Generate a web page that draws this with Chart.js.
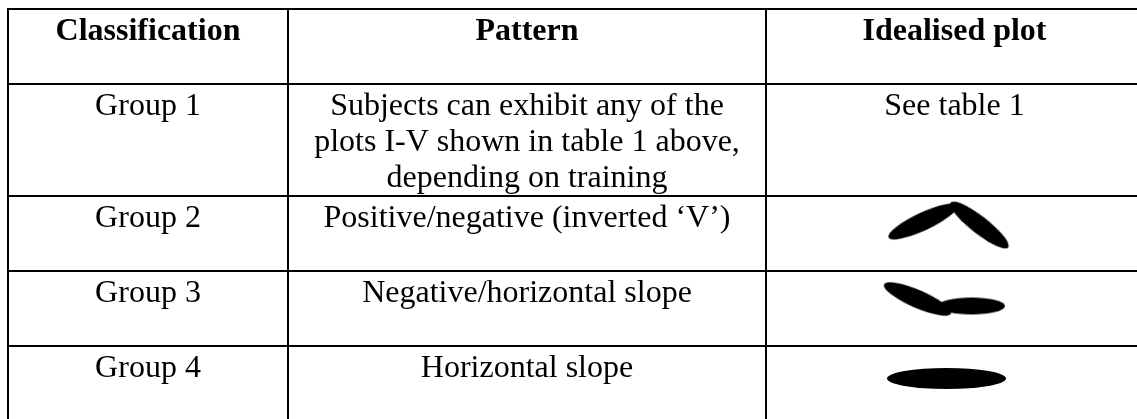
<!DOCTYPE html>
<html>
<head>
<meta charset="utf-8">
<script src="https://cdn.jsdelivr.net/npm/chart.js@4"></script>
<style>
  html, body { margin: 0; padding: 0; background: #fff; overflow: hidden; }
</style>
</head>
<body>
<canvas id="myChart" width="1150" height="430"></canvas>
<script>
// table content
const headers = ['Classification', 'Pattern', 'Idealised plot']
const groups = ['Group 1', 'Group 2', 'Group 3', 'Group 4']
const patterns = [
    ['Subjects can exhibit any of the', 'plots I-V shown in table 1 above,', 'depending on training'],
    ['Positive/negative (inverted \u2018V\u2019)'],
    ['Negative/horizontal slope'],
    ['Horizontal slope']
]
const plotNotes = ['See table 1', '', '', '']

// idealised plot marks: group, offset from cell centre
const markGroups = ['Group 2', 'Group 2', 'Group 3', 'Group 3', 'Group 4']
const markDx = [-31.5, 25, -37, 17, -8]
const markDy = [-12, -8.5, -9.5, -2.5, -5]

// layout of the table (column / row edges in table units)
const colEdges = [0, 280, 758, 1135]
const rowEdges = [0, 75, 187, 262, 337, 412]

// ellipse look for each mark: length, thickness, angle
const markLen = [76, 73, 73, 67, 119]
const markThick = [18, 17.5, 18, 17, 21]
const markAngle = [-25, 38, 23.5, 0, 0]

function ellipseImage(len, thick) {
    const c = document.createElement('canvas')
    c.width = Math.ceil(len) + 2
    c.height = Math.ceil(thick) + 2
    const g = c.getContext('2d')
    g.fillStyle = '#000'
    g.beginPath()
    g.ellipse(c.width / 2, c.height / 2, len / 2, thick / 2, 0, 0, Math.PI * 2)
    g.fill()
    return c
}
const markImages = markLen.map((l, i) => ellipseImage(l, markThick[i]))

const plotCentre = (colEdges[2] + colEdges[3]) / 2
const markData = markGroups.map((g, i) => {
    const r = groups.indexOf(g) + 1
    return {
        x: plotCentre + markDx[i],
        y: (rowEdges[r] + rowEdges[r + 1]) / 2 + markDy[i]
    }
})

const tableText = {
    id: 'tableText',
    afterDatasetsDraw(chart) {
        const ctx = chart.ctx
        const xs = chart.scales.x
        const ys = chart.scales.y
        const colX = (c) => xs.getPixelForValue((colEdges[c] + colEdges[c + 1]) / 2)
        const rowTop = (r) => ys.getPixelForValue(rowEdges[r])
        ctx.save()
        ctx.fillStyle = '#000'
        ctx.textAlign = 'center'
        ctx.textBaseline = 'alphabetic'
        ctx.font = 'bold 32px "Liberation Serif"'
        headers.forEach((h, c) => ctx.fillText(h, colX(c), rowTop(0) + 31))
        ctx.font = '32px "Liberation Serif"'
        groups.forEach((g, i) => {
            const top = rowTop(i + 1) + 31
            ctx.fillText(g, colX(0), top)
            patterns[i].forEach((line, k) => ctx.fillText(line, colX(1), top + k * 36))
            if (plotNotes[i]) ctx.fillText(plotNotes[i], colX(2), top)
        })
        ctx.restore()
    }
}

new Chart(document.getElementById('myChart'), {
    type: 'scatter',
    data: {
        datasets: [{
            data: markData,
            pointStyle: (ctx) => markImages[ctx.dataIndex],
            rotation: (ctx) => markAngle[ctx.dataIndex],
            radius: 3,
            hoverRadius: 3
        }]
    },
    options: {
        responsive: false,
        animation: false,
        events: [],
        layout: { padding: { left: 8, top: 9, right: 7, bottom: 9 } },
        plugins: { legend: { display: false }, tooltip: { enabled: false } },
        scales: {
            x: {
                type: 'linear',
                min: colEdges[0],
                max: colEdges[colEdges.length - 1],
                afterBuildTicks: (axis) => { axis.ticks = colEdges.map(v => ({ value: v })) },
                ticks: { display: false },
                grid: { color: '#000', lineWidth: 2, drawTicks: false },
                border: { color: '#000', width: 2 }
            },
            y: {
                type: 'linear',
                reverse: true,
                min: rowEdges[0],
                max: rowEdges[rowEdges.length - 1],
                afterBuildTicks: (axis) => { axis.ticks = rowEdges.map(v => ({ value: v })) },
                ticks: { display: false },
                grid: { color: '#000', lineWidth: 2, drawTicks: false },
                border: { color: '#000', width: 2 }
            }
        }
    },
    plugins: [tableText]
})
</script>
</body>
</html>
